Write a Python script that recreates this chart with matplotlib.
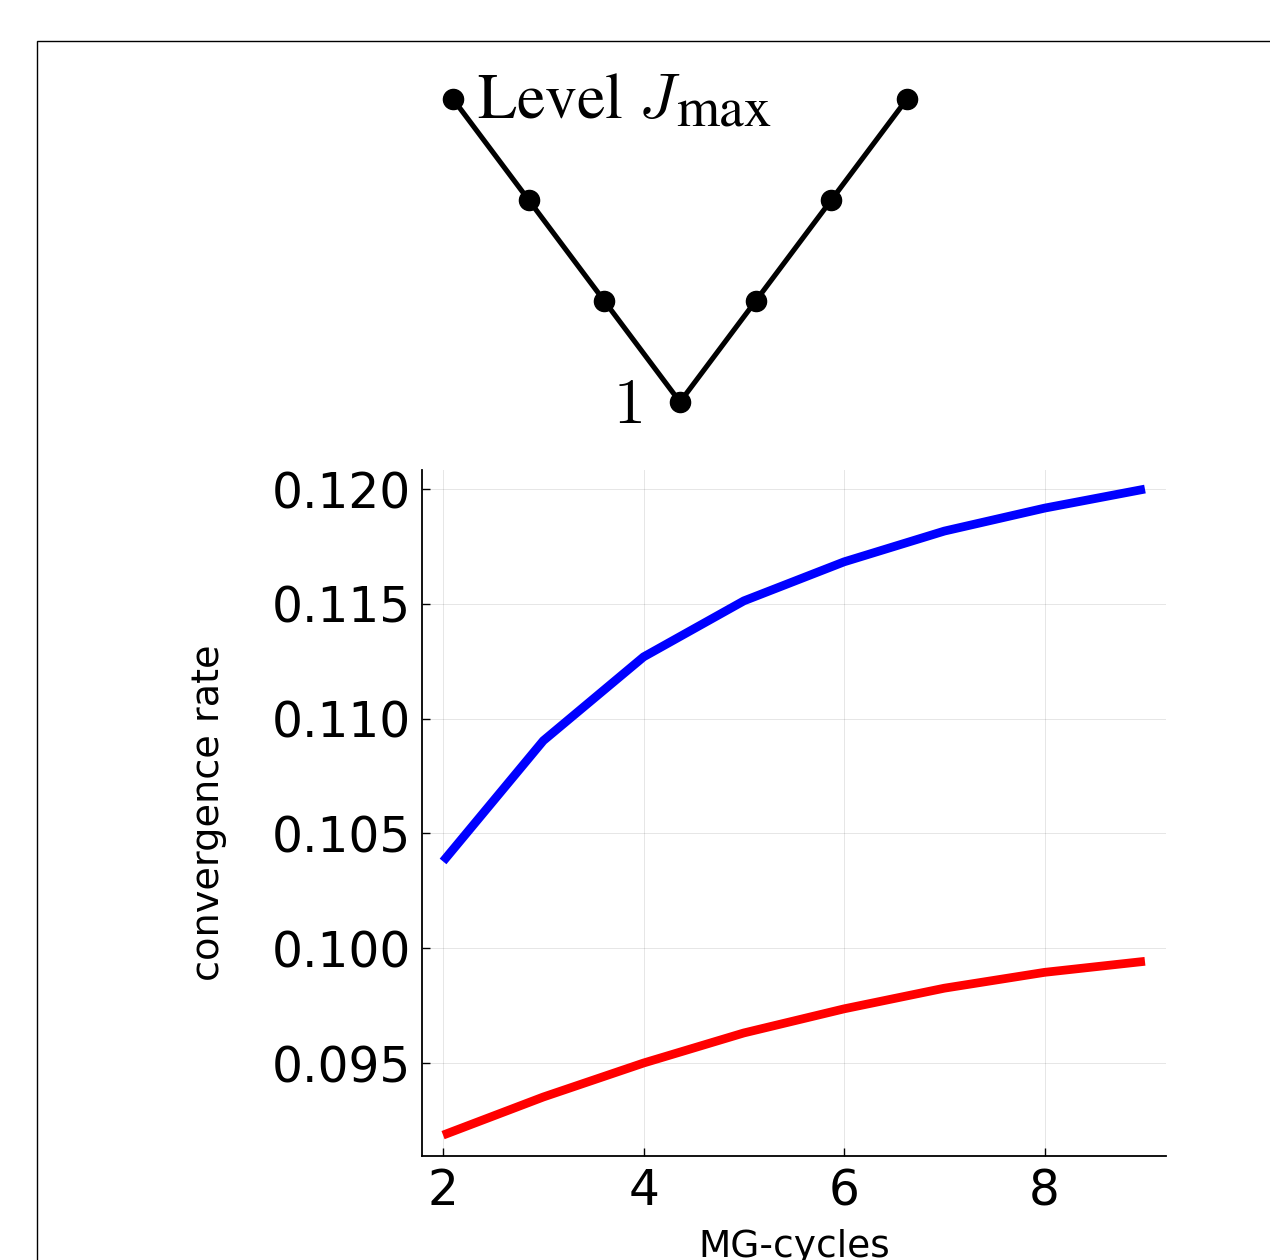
import numpy as np
import matplotlib
matplotlib.use('Agg')
import matplotlib.pyplot as plt
from matplotlib.patches import Rectangle

# data
cycles = [2, 3, 4, 5, 6, 7, 8, 9]
rate_blue = [0.10378, 0.10904, 0.11269, 0.11513, 0.11683, 0.11817, 0.11917, 0.12000]
rate_red = [0.09186, 0.09352, 0.09500, 0.09631, 0.09736, 0.09826, 0.09895, 0.09943]
yticks = [0.095, 0.100, 0.105, 0.110, 0.115, 0.120]
xticks = [2, 4, 6, 8]
# V-cycle sketch: step along the cycle, grid level
v_step = [0, 1, 2, 3, 4, 5, 6]
v_level = [4, 3, 2, 1, 2, 3, 4]

W, H = 1270, 1260
fig = plt.figure(figsize=(W/100, H/100), dpi=100)

# outer frame (cut off at right and bottom)
fig.patches.append(Rectangle((37/W, -0.5), 2.0, 0.5 + 1 - 41/H, transform=fig.transFigure,
                             fill=False, edgecolor='black', linewidth=1.0))

# V-cycle diagram
axv = fig.add_axes([453/W, 1 - 402/H, 454/W, 303/H])
axv.plot(v_step, v_level, color='black', lw=3.7, marker='o', ms=14.5, clip_on=False)
axv.set_xlim(0, 6)
axv.set_ylim(1, 4)
axv.axis('off')
axv.annotate('Level $J$', xy=(0, 4), xytext=(17, -14), textcoords='offset points',
             fontsize=46, family='STIXGeneral', math_fontfamily='cm', ha='left', va='baseline')
axv.annotate('max', xy=(0, 4), xytext=(161, -20), textcoords='offset points',
             fontsize=40, family='STIXGeneral', ha='left', va='baseline')
axv.annotate('$1$', xy=(3, 1), xytext=(-48, -15), textcoords='offset points',
             fontsize=46, math_fontfamily='cm', ha='left', va='baseline')

# convergence plot
ax = fig.add_axes([422/W, 1 - 1156/H, 744/W, 686/H])
ax.plot(cycles, rate_blue, color=(0, 0, 1), lw=6.3, solid_capstyle='butt')
ax.plot(cycles, rate_red, color=(1, 0, 0), lw=6.3, solid_capstyle='butt')
ax.set_xlim(1.79, 9.21)
ax.set_ylim(0.09095, 0.12083)
ax.set_xticks(xticks)
ax.set_yticks(yticks)
ax.set_yticklabels(['%.3f' % v for v in yticks])
ax.grid(True, color='black', alpha=0.1, lw=0.7)
for s in ['top', 'right']:
    ax.spines[s].set_visible(False)
for s in ['left', 'bottom']:
    ax.spines[s].set_linewidth(1.3)
ax.tick_params(direction='in', length=6, width=1, labelsize=35, pad=8)
ax.set_xlabel('MG-cycles', fontsize=27, labelpad=10)
ax.set_ylabel('convergence rate', fontsize=27.5, labelpad=32)

fig.savefig('out.png', dpi=100)
